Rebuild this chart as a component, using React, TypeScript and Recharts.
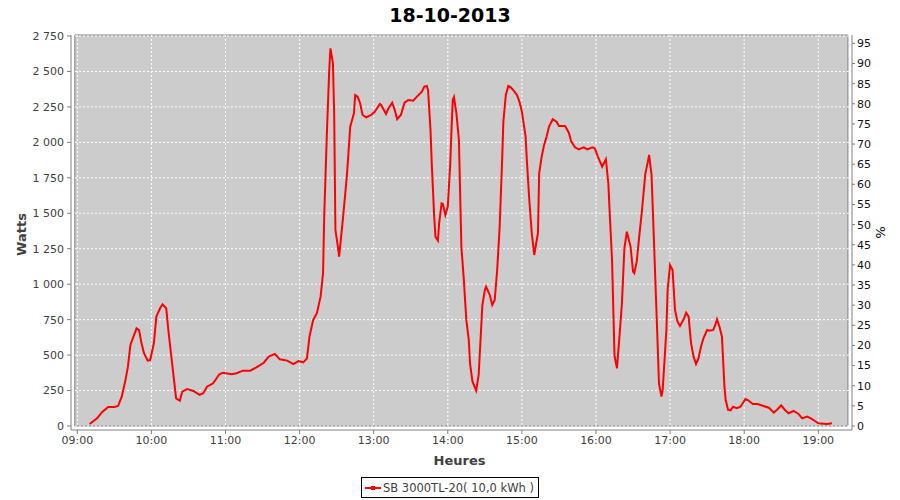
import React from 'react';
import {
  LineChart,
  Line,
  XAxis,
  YAxis,
  CartesianGrid,
  ReferenceArea,
  Legend,
} from 'recharts';

// samples (time of day, watts)
const times = [
  '09:10', '09:16', '09:20', '09:25', '09:30', '09:33', '09:36', '09:39', '09:41', '09:43',
  '09:46', '09:48', '09:50', '09:52', '09:54', '09:57', '09:59', '10:02', '10:04', '10:07',
  '10:09', '10:12', '10:14', '10:18', '10:20', '10:23', '10:25', '10:29', '10:34', '10:39',
  '10:42', '10:45', '10:50', '10:55', '10:58', '11:05', '11:09', '11:14', '11:20', '11:25',
  '11:31', '11:35', '11:40', '11:44', '11:50', '11:55', '11:59', '12:03', '12:06', '12:08',
  '12:11', '12:14', '12:17', '12:19', '12:20', '12:22', '12:24', '12:25', '12:27', '12:28',
  '12:29', '12:31', '12:32', '12:35', '12:38', '12:39', '12:41', '12:44', '12:45', '12:47',
  '12:49', '12:51', '12:54', '12:58', '13:01', '13:05', '13:06', '13:10', '13:12', '13:15',
  '13:17', '13:19', '13:22', '13:25', '13:28', '13:32', '13:35', '13:39', '13:41', '13:43',
  '13:44', '13:46', '13:47', '13:49', '13:50', '13:52', '13:53', '13:55', '13:56', '13:58',
  '14:00', '14:02', '14:03', '14:04', '14:05', '14:07', '14:09', '14:11', '14:13', '14:15',
  '14:17', '14:18', '14:20', '14:23', '14:25', '14:28', '14:30', '14:31', '14:34', '14:36',
  '14:38', '14:40', '14:42', '14:44', '14:45', '14:47', '14:49', '14:51', '14:54', '14:56',
  '14:58', '15:00', '15:03', '15:04', '15:06', '15:08', '15:10', '15:13', '15:14', '15:16',
  '15:18', '15:20', '15:22', '15:25', '15:28', '15:30', '15:33', '15:35', '15:38', '15:40',
  '15:43', '15:46', '15:50', '15:53', '15:57', '15:59', '16:02', '16:05', '16:08', '16:10',
  '16:11', '16:13', '16:15', '16:17', '16:19', '16:21', '16:23', '16:25', '16:28', '16:30',
  '16:31', '16:33', '16:35', '16:37', '16:40', '16:42', '16:43', '16:45', '16:47', '16:50',
  '16:51', '16:53', '16:54', '16:57', '16:58', '17:00', '17:02', '17:04', '17:06', '17:08',
  '17:11', '17:13', '17:15', '17:17', '17:19', '17:21', '17:23', '17:25', '17:27', '17:30',
  '17:32', '17:35', '17:37', '17:38', '17:40', '17:42', '17:44', '17:45', '17:47', '17:49',
  '17:51', '17:54', '17:57', '18:01', '18:03', '18:07', '18:11', '18:15', '18:20', '18:24',
  '18:27', '18:30', '18:33', '18:36', '18:40', '18:44', '18:47', '18:51', '18:54', '18:57',
  '19:00', '19:07', '19:11',
];

const watts = [
  14, 54, 97, 134, 134, 141, 207, 324, 418, 571,
  642, 689, 677, 583, 513, 461, 465, 583, 771, 830,
  858, 830, 654, 348, 195, 178, 242, 261, 247, 219,
  231, 277, 301, 365, 376, 365, 372, 390, 390, 414,
  446, 489, 508, 470, 461, 437, 458, 449, 477, 630,
  748, 795, 912, 1077, 1500, 2040, 2511, 2663, 2558, 2205,
  1382, 1265, 1194, 1453, 1735, 1852, 2111, 2205, 2334, 2322,
  2276, 2193, 2177, 2193, 2217, 2271, 2264, 2200, 2240, 2280,
  2229, 2163, 2193, 2280, 2299, 2294, 2322, 2358, 2393, 2398,
  2370, 2088, 1852, 1476, 1335, 1307, 1430, 1570, 1566, 1488,
  1547, 1852, 2088, 2299, 2320, 2205, 2017, 1265, 1030, 748,
  607, 442, 312, 249, 360, 853, 959, 982, 924, 853,
  889, 1100, 1405, 1876, 2146, 2334, 2398, 2388, 2358, 2334,
  2287, 2217, 2040, 1876, 1594, 1359, 1206, 1359, 1782, 1899,
  1982, 2040, 2111, 2163, 2146, 2116, 2116, 2116, 2068, 2005,
  1965, 1951, 1965, 1951, 1965, 1958, 1888, 1829, 1881, 1712,
  1523, 1171, 495, 407, 630, 865, 1253, 1370, 1265, 1088,
  1077, 1159, 1335, 1500, 1782, 1864, 1911, 1770, 1288, 559,
  301, 207, 254, 677, 959, 1135, 1100, 818, 736, 705,
  752, 799, 771, 583, 489, 437, 477, 559, 618, 677,
  672, 677, 724, 752, 700, 630, 277, 183, 113, 110,
  136, 125, 136, 190, 183, 155, 155, 143, 129, 94,
  118, 146, 113, 90, 106, 85, 54, 66, 54, 37,
  19, 14, 19,
];

const hourLabels = [
  '09:00', '10:00', '11:00', '12:00', '13:00', '14:00',
  '15:00', '16:00', '17:00', '18:00', '19:00',
];
const wattTicks = [0, 250, 500, 750, 1000, 1250, 1500, 1750, 2000, 2250, 2500, 2750];
const pctTicks = [0, 5, 10, 15, 20, 25, 30, 35, 40, 45, 50, 55, 60, 65, 70, 75, 80, 85, 90, 95];

const seriesName = 'SB 3000TL-20( 10,0 kWh )';
const title = '18-10-2013';

const toMinutes = (s: string) => {
  const [h, m] = s.split(':').map(Number);
  return h * 60 + m;
};
const fmtTime = (v: number) => {
  const h = Math.floor(v / 60);
  const m = Math.round(v - h * 60);
  return `${String(h).padStart(2, '0')}:${String(m).padStart(2, '0')}`;
};
const fmtWatts = (v: number) =>
  v >= 1000 ? `${Math.floor(v / 1000)} ${String(v % 1000).padStart(3, '0')}` : String(v);

const data = times.map((t, i) => ({ t: toMinutes(t), w: watts[i] }));
const hourTicks = hourLabels.map(toMinutes);

// plot frame (gray box) is inset 4px from the axis lines, like the original
const X_DOMAIN: [number, number] = [534.9, 1167.3];
const W_DOMAIN: [number, number] = [-28.2, 2757];
const W_PER_PCT = 28.4;
const PCT_DOMAIN: [number, number] = [W_DOMAIN[0] / W_PER_PCT, W_DOMAIN[1] / W_PER_PCT];

const FONT = '"DejaVu Sans", sans-serif';
const AXIS = '#808080';

const WattsLabel = (props: any) => {
  const { viewBox } = props;
  const x = viewBox.x + 26;
  const y = viewBox.y + viewBox.height / 2 + 2;
  return (
    <text
      x={x}
      y={y}
      transform={`rotate(-90 ${x} ${y})`}
      textAnchor="middle"
      fontFamily={FONT}
      fontWeight="bold"
      fontSize={13}
      fill="#404040"
    >
      Watts
    </text>
  );
};

const PctLabel = (props: any) => {
  const { viewBox } = props;
  const x = viewBox.x + 24;
  const y = viewBox.y + viewBox.height / 2;
  return (
    <text
      x={x}
      y={y}
      transform={`rotate(90 ${x} ${y})`}
      textAnchor="middle"
      fontFamily={FONT}
      fontSize={13}
      fill="#000"
    >
      %
    </text>
  );
};

const HeuresLabel = (props: any) => {
  const { viewBox } = props;
  return (
    <text
      x={viewBox.x + viewBox.width / 2 - 2}
      y={viewBox.y + 35}
      textAnchor="middle"
      fontFamily={FONT}
      fontWeight="bold"
      fontSize={13}
      fill="#404040"
    >
      Heures
    </text>
  );
};

const LegendBox = () => (
  <div style={{ display: 'flex', justifyContent: 'center' }}>
    <div
      style={{
        boxSizing: 'border-box',
        height: 21,
        border: '1px solid #000',
        display: 'flex',
        alignItems: 'center',
        padding: '0 4px 0 3px',
        fontFamily: FONT,
        fontSize: 11.5,
        color: '#404040',
        background: '#fff',
      }}
    >
      <svg width={16} height={6} style={{ marginRight: 2 }}>
        <line x1={0} y1={3} x2={16} y2={3} stroke="#ff0000" strokeWidth={2} />
        <rect x={6} y={1} width={4} height={4} fill="#ff0000" />
      </svg>
      <span>{seriesName}</span>
    </div>
  </div>
);

export default function App() {
  return (
    <div style={{ position: 'absolute', left: 0, top: 0, width: 900, height: 500, background: '#fff' }}>
      <div
        style={{
          position: 'absolute',
          top: 1,
          left: 0,
          width: 900,
          textAlign: 'center',
          fontFamily: FONT,
          fontWeight: 'bold',
          fontSize: 19,
          lineHeight: '28px',
          color: '#000',
        }}
      >
        {title}
      </div>
      <LineChart
        width={900}
        height={500}
        data={data}
        margin={{ top: 35, right: 0, bottom: 2, left: 0 }}
      >
        <ReferenceArea
          x1={538}
          x2={1164}
          y1={0}
          y2={W_DOMAIN[1]}
          yAxisId="w"
          fill="#cccccc"
          fillOpacity={1}
          stroke={AXIS}
          strokeWidth={1}
          zIndex={-200}
        />
        <CartesianGrid
          yAxisId="w"
          stroke="#ffffff"
          strokeDasharray="2 2"
          horizontalValues={wattTicks}
          verticalValues={hourTicks}
          zIndex={-100}
        />
        <XAxis
          dataKey="t"
          type="number"
          domain={X_DOMAIN}
          allowDataOverflow
          ticks={hourTicks}
          tickFormatter={fmtTime}
          height={47}
          stroke={AXIS}
          tickSize={4}
          tickMargin={2}
          tick={{ fill: '#404040', fontSize: 11, fontFamily: FONT }}
          label={<HeuresLabel />}
        />
        <YAxis
          yAxisId="w"
          type="number"
          domain={W_DOMAIN}
          allowDataOverflow
          ticks={wattTicks}
          tickFormatter={fmtWatts}
          width={71}
          stroke={AXIS}
          tickSize={4}
          tickMargin={3}
          tick={{ fill: '#404040', fontSize: 11, fontFamily: FONT }}
          label={<WattsLabel />}
        />
        <YAxis
          yAxisId="pct"
          orientation="right"
          type="number"
          domain={PCT_DOMAIN}
          allowDataOverflow
          ticks={pctTicks}
          width={48}
          stroke={AXIS}
          tickSize={3}
          tickMargin={2}
          tick={{ fill: '#111', fontSize: 11, fontFamily: FONT }}
          label={<PctLabel />}
        />
        <Line
          yAxisId="w"
          dataKey="w"
          name={seriesName}
          type="linear"
          stroke="#ff0000"
          strokeWidth={2}
          dot={false}
          isAnimationActive={false}
        />
        <Legend verticalAlign="bottom" content={<LegendBox />} />
      </LineChart>
    </div>
  );
}
